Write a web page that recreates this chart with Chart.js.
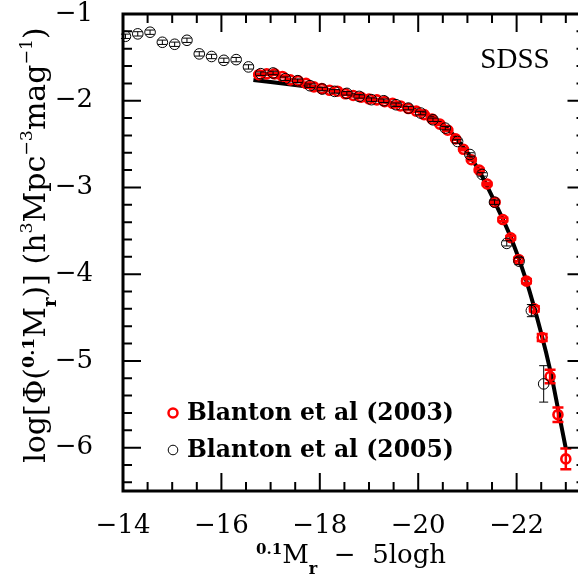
<!DOCTYPE html>
<html>
<head>
<meta charset="utf-8">
<script src="https://cdn.jsdelivr.net/npm/chart.js@4.4.0/dist/chart.umd.min.js"></script>
<style>
html, body { margin: 0; padding: 0; background: #fff; overflow: hidden; }
#wrap { position: relative; width: 600px; height: 574px; }
</style>
</head>
<body>
<div id="wrap"><canvas id="lf"></canvas></div>
<script>
// Blanton et al (2005) - open black circles
var mag05 = [-14.05, -14.3, -14.55, -14.8, -15.05, -15.3, -15.55, -15.8, -16.05, -16.3,
             -16.55, -16.8, -17.05, -17.3, -17.55, -17.8, -18.05, -18.3, -18.55, -18.8,
             -19.05, -19.3, -19.55, -19.8, -20.05, -20.3, -20.55, -20.8, -21.05, -21.3,
             -21.55, -21.8, -22.05, -22.3, -22.55];
var phi05 = [-1.257, -1.229, -1.21, -1.326, -1.349, -1.303, -1.46, -1.49, -1.534, -1.526,
             -1.61, -1.688, -1.68, -1.746, -1.769, -1.827, -1.865, -1.892, -1.915, -1.95,
             -1.988, -2.0, -2.046, -2.085, -2.142, -2.22, -2.316, -2.47, -2.62, -2.85,
             -3.17, -3.645, -3.85, -4.42, -5.265];
var err05 = [0.025, 0.025, 0.025, 0.025, 0.025, 0.025, 0.025, 0.025, 0.025, 0.025,
             0.025, 0.02, 0.02, 0.02, 0.02, 0.02, 0.02, 0.02, 0.02, 0.02,
             0.02, 0.02, 0.02, 0.02, 0.02, 0.02, 0.02, 0.02, 0.02, 0.02,
             0.025, 0.03, 0.04, 0.07, 0.21];

// Blanton et al (2003) - thick red circles
var mag03 = [-16.76, -16.92, -17.08, -17.24, -17.40, -17.56, -17.72, -17.88, -18.04, -18.20,
             -18.36, -18.52, -18.68, -18.84, -19.00, -19.16, -19.32, -19.48, -19.64, -19.80,
             -19.96, -20.12, -20.28, -20.44, -20.60, -20.76, -20.92, -21.08, -21.24, -21.40,
             -21.56, -21.72, -21.88, -22.04, -22.20, -22.36, -22.52, -22.68, -22.84, -23.00];
var phi03 = [-1.70, -1.69, -1.69, -1.72, -1.76, -1.77, -1.80, -1.84, -1.86, -1.88,
             -1.89, -1.92, -1.94, -1.96, -1.98, -1.99, -2.01, -2.03, -2.06, -2.09,
             -2.12, -2.16, -2.21, -2.27, -2.34, -2.44, -2.56, -2.68, -2.80, -2.96,
             -3.17, -3.37, -3.58, -3.83, -4.08, -4.40, -4.73, -5.18, -5.62, -6.13];
var err03 = [0.01, 0.01, 0.01, 0.01, 0.01, 0.01, 0.01, 0.01, 0.01, 0.01,
             0.01, 0.01, 0.01, 0.01, 0.01, 0.01, 0.01, 0.01, 0.01, 0.01,
             0.01, 0.01, 0.01, 0.01, 0.01, 0.01, 0.01, 0.01, 0.015, 0.015,
             0.015, 0.02, 0.02, 0.02, 0.025, 0.03, 0.04, 0.077, 0.083, 0.12];

// Schechter fit (thick black line)
var fitMag = [-16.65, -17.0, -17.5, -18.0, -18.5, -19.0, -19.5, -20.0, -20.4, -20.8,
              -21.2, -21.6, -21.9, -22.2, -22.5, -22.7, -22.85, -23.0];
var fitPhi = [-1.76, -1.785, -1.82, -1.86, -1.91, -1.97, -2.035, -2.12, -2.23, -2.45,
              -2.77, -3.22, -3.60, -4.08, -4.68, -5.15, -5.58, -6.01];

var xTicks = [-14, -16, -18, -20, -22];
var yTicks = [-1, -2, -3, -4, -5, -6];

var serif = '"DejaVu Serif", serif';

function pts(xs, ys) {
  return xs.map(function (x, i) { return { x: x, y: ys[i] }; });
}

// error bars drawn right after their own dataset
var errorBars = {
  id: 'errorBars',
  afterDatasetDraw: function (chart, args) {
    var ds = chart.data.datasets[args.index];
    if (!ds.errs) return;
    var c = chart.ctx, sy = chart.scales.y, meta = args.meta;
    c.save();
    c.strokeStyle = ds.borderColor;
    c.lineWidth = ds.errWidth;
    meta.data.forEach(function (el, i) {
      var v = ds.data[i].y, e = ds.errs[i];
      var y1 = sy.getPixelForValue(v + e), y2 = sy.getPixelForValue(v - e);
      var w = ds.capHalf;
      c.beginPath();
      c.moveTo(el.x, y1); c.lineTo(el.x, y2);
      c.moveTo(el.x - w, y1); c.lineTo(el.x + w, y1);
      c.moveTo(el.x - w, y2); c.lineTo(el.x + w, y2);
      c.stroke();
    });
    c.restore();
  }
};

function richText(c, parts, x, y, base) {
  c.textAlign = 'left';
  c.textBaseline = 'alphabetic';
  var total = 0;
  parts.forEach(function (p) {
    c.font = (p.b ? 'bold ' : '') + (base * (p.s || 1)) + 'px ' + serif;
    p.w = c.measureText(p.t).width;
    total += p.w;
  });
  var cx = x - total / 2;
  parts.forEach(function (p) {
    c.font = (p.b ? 'bold ' : '') + (base * (p.s || 1)) + 'px ' + serif;
    c.fillText(p.t, cx, y + (p.dy || 0) * base);
    cx += p.w;
  });
}

// frame, inward ticks on all sides, titles, legend
var decor = {
  id: 'decor',
  afterDraw: function (chart) {
    var c = chart.ctx, a = chart.chartArea, sx = chart.scales.x, sy = chart.scales.y;
    c.save();
    c.strokeStyle = '#000';
    c.fillStyle = '#000';
    c.lineWidth = 2;
    c.beginPath();
    var v, p, L;
    for (v = -14; v >= sx.min - 1e-6; v -= 0.5) {
      p = sx.getPixelForValue(v);
      L = Math.abs(v % 2) < 1e-6 ? 18 : 9;
      c.moveTo(p, a.bottom); c.lineTo(p, a.bottom - L);
      c.moveTo(p, a.top); c.lineTo(p, a.top + L);
    }
    for (v = -1; v >= sy.min - 1e-6; v -= 0.2) {
      p = sy.getPixelForValue(v);
      L = Math.abs(v - Math.round(v)) < 1e-6 ? 18 : 9;
      c.moveTo(a.left, p); c.lineTo(a.left + L, p);
      c.moveTo(a.right, p); c.lineTo(a.right - L, p);
    }
    c.stroke();
    c.lineWidth = 3;
    c.strokeRect(a.left, a.top, a.right - a.left, a.bottom - a.top);

    // SDSS label
    c.textAlign = 'center';
    c.textBaseline = 'alphabetic';
    c.font = '29px "Liberation Serif", serif';
    c.fillText('SDSS', a.left + 392, a.top + 54);

    // x title
    richText(c, [
      { t: '0.1', s: 0.58, dy: -0.35, b: true },
      { t: 'M' },
      { t: 'r', s: 0.62, dy: 0.42, b: true },
      { t: '  \u2212  5logh' }
    ], a.left + 228, 563, 26);

    // y title (rotated)
    c.save();
    c.translate(45, 245);
    c.rotate(-Math.PI / 2);
    richText(c, [
      { t: 'log[' },
      { t: '\u03A6(' },
      { t: '0.1', s: 0.58, dy: -0.36, b: true },
      { t: 'M' },
      { t: 'r', s: 0.6, dy: 0.35, b: true },
      { t: ')] (h' },
      { t: '3', s: 0.58, dy: -0.42 },
      { t: 'Mpc' },
      { t: '\u22123', s: 0.58, dy: -0.42 },
      { t: 'mag' },
      { t: '\u22121', s: 0.58, dy: -0.42 },
      { t: ')' }
    ], 0, 0, 30);
    c.restore();

    // legend
    var lx = a.left + 50;
    var rows = [
      { y: a.bottom - 78, color: '#ff0000', w: 2.5, r: 4.5, label: 'Blanton et al (2003)' },
      { y: a.bottom - 41, color: '#000000', w: 1, r: 4.8, label: 'Blanton et al (2005)' }
    ];
    c.textAlign = 'left';
    c.textBaseline = 'middle';
    c.font = 'bold 23.5px ' + serif;
    rows.forEach(function (row) {
      c.beginPath();
      c.strokeStyle = row.color;
      c.lineWidth = row.w;
      c.arc(lx, row.y, row.r, 0, Math.PI * 2);
      c.stroke();
      c.fillStyle = '#000';
      c.fillText(row.label, lx + 14, row.y + 1);
    });
    c.restore();
  }
};

var ctx = document.getElementById('lf').getContext('2d');
var chart = new Chart(ctx, {
  type: 'scatter',
  data: {
    datasets: [
      {
        label: 'Blanton et al (2005)',
        data: pts(mag05, phi05),
        errs: err05, errWidth: 1, capHalf: 4.5,
        borderColor: '#000000',
        backgroundColor: 'rgba(0,0,0,0)',
        pointRadius: 5.3,
        pointBorderWidth: 1,
        order: 0
      },
      {
        label: 'Blanton et al (2003)',
        data: pts(mag03, phi03),
        errs: err03, errWidth: 2.5, capHalf: 5.5,
        borderColor: '#ff0000',
        backgroundColor: 'rgba(0,0,0,0)',
        pointRadius: 4.5,
        pointBorderWidth: 2.6,
        order: 1
      },
      {
        type: 'line',
        label: 'fit',
        data: pts(fitMag, fitPhi),
        borderColor: '#000000',
        borderWidth: 4,
        pointRadius: 0,
        tension: 0.3,
        fill: false,
        order: 2
      }
    ]
  },
  options: {
    responsive: true,
    maintainAspectRatio: false,
    animation: false,
    devicePixelRatio: 1,
    layout: { padding: { top: 14, right: 14.5, left: 0, bottom: 0 } },
    plugins: {
      legend: { display: false },
      tooltip: { enabled: false }
    },
    scales: {
      x: {
        type: 'linear',
        min: -23.4, max: -14,
        reverse: true,
        grid: { display: false },
        border: { display: false },
        afterFit: function (s) {
          s.height = 83;
          s.paddingLeft = 0; s.paddingRight = 0;
        },
        afterBuildTicks: function (s) { s.ticks = xTicks.map(function (v) { return { value: v }; }); },
        ticks: {
          padding: 12,
          color: '#000',
          font: { family: serif, size: 26 },
          maxRotation: 0,
          callback: function (v) { return '\u2212' + Math.abs(v); }
        }
      },
      y: {
        type: 'linear',
        min: -6.5, max: -1,
        grid: { display: false },
        border: { display: false },
        afterFit: function (s) {
          s.width = 123;
          s.paddingTop = 0; s.paddingBottom = 0;
        },
        afterBuildTicks: function (s) { s.ticks = yTicks.map(function (v) { return { value: v }; }); },
        ticks: {
          padding: 22,
          color: '#000',
          font: { family: serif, size: 26 },
          callback: function (v) { return '\u2212' + Math.abs(v); }
        }
      }
    }
  },
  plugins: [errorBars, decor]
});
</script>
</body>
</html>
